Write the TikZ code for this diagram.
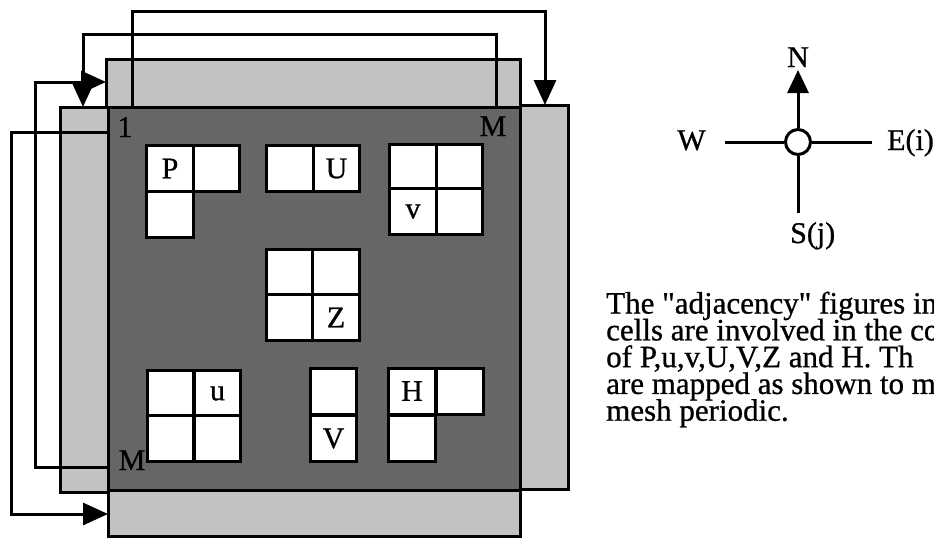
\documentclass[tikz,border=0pt]{standalone}
\usepackage{fontspec}
\setmainfont{Liberation Serif}[Ligatures=TeXOff, FakeBold=0.8]
\usetikzlibrary{arrows.meta}
\newcommand\mytightlines{\lineskiplimit=-100pt\relax\lineskip=0pt\relax}
\begin{document}
\begin{tikzpicture}[x=1pt,y=-1pt,
  strip/.style={draw=black, line width=3pt, fill=black!24},
  mainsq/.style={draw=black, line width=3pt, fill=black!60},
  cell/.style={draw=black, line width=3pt, fill=white, minimum width=46.5pt, minimum height=46pt, inner sep=0pt, font=\fontsize{30}{30}\selectfont},
  conn/.style={line width=3pt, -{Triangle[length=25pt,width=22pt]}},
  lbl/.style={inner sep=0pt, font=\fontsize{30}{30}\selectfont},
  para/.style={inner sep=0pt, anchor=north west, align=left, font=\fontsize{31}{26.8}\selectfont\mytightlines},
  compline/.style={line width=3pt}]
\useasboundingbox (0,0) rectangle (934,538);

% ghost strips
\path[strip] (106,59) rectangle (520,107);
\path[strip] (60,107) rectangle (108,492);
\path[strip] (520,105) rectangle (568,489);
\path[strip] (108,490) rectangle (520,536);
% main mesh
\path[mainsq] (108,107) rectangle (520,490);

% corner labels
\node[lbl, anchor=base] (one) at (125,137) {1};
\node[lbl, anchor=base] (Mtr) at (493,136) {M};
\node[lbl, anchor=base] (Mbl) at (132,470) {M};

% cell groups
\node[cell] (P1) at (170,168.5) {P};
\node[cell] (P2) at (216.5,168.5) {};
\node[cell] (P3) at (170,214.5) {};

\node[cell] (U1) at (290,168.5) {};
\node[cell] (U2) at (336.5,168.5) {U};

\node[cell] (v1) at (413,167.5) {};
\node[cell] (v2) at (459.5,167.5) {};
\node[cell] (v3) at (413,211.5) {v};
\node[cell] (v4) at (459.5,211.5) {};

\node[cell] (Z1) at (290,272.5) {};
\node[cell] (Z2) at (336,272.5) {};
\node[cell] (Z3) at (290,317.5) {};
\node[cell] (Z4) at (336,317.5) {Z};

\node[cell] (u1) at (170.5,393.5) {};
\node[cell] (u2) at (217.5,393.5) {u};
\node[cell] (u3) at (170.5,438) {};
\node[cell] (u4) at (217.5,438) {};

\node[cell] (V1) at (333.5,391.5) {};
\node[cell] (V2) at (333.5,438.5) {V};

\node[cell] (H1) at (412,391) {H};
\node[cell] (H2) at (460,391) {};
\node[cell] (H3) at (412,438) {};

% periodic mapping connectors
\coordinate (A0) at (132,107);
\coordinate (A1) at (545,105);
\coordinate (B0) at (496,107);
\coordinate (B1) at (83,107);
\coordinate (C0) at (108,467);
\coordinate (C1) at (106,82);
\coordinate (D0) at (108,132);
\coordinate (D1) at (108,514);
\draw[conn] (A0) -- ++(0,-96) -| (A1);
\draw[conn] (B0) -- ++(0,-73) -| (B1);
\draw[conn] (C0) -- ++(-73,0) |- (C1);
\draw[conn] (D0) -- ++(-97,0) |- (D1);

% compass
\node[circle, draw=black, fill=white, line width=3pt, minimum size=25pt, inner sep=0pt] (O) at (798,142) {};
\coordinate (Wend) at (725,142);
\coordinate (Eend) at (872,142);
\coordinate (Send) at (798,213);
\coordinate (Ntip) at (798,70);
\draw[compline] (O.west) -- (Wend);
\draw[compline] (O.east) -- (Eend);
\draw[compline] (O.south) -- (Send);
\draw[compline, -{Triangle[length=23pt,width=21pt]}] (O.north) -- (Ntip);
\node[lbl, anchor=base] (N) at (798,67) {N};
\node[lbl, anchor=base] (W) at (691.5,150) {W};
\node[lbl, anchor=base west] (E) at (887,150) {E(i)};
\node[lbl, anchor=base west] (S) at (790,243) {S(j)};

% caption
\node[para] (cap) at (606,291.5) {The "adjacency" figures in\\cells are involved in the co\\of P,u,v,U,V,Z and H. Th\\are mapped as shown to m\\mesh periodic.};
\end{tikzpicture}
\end{document}
